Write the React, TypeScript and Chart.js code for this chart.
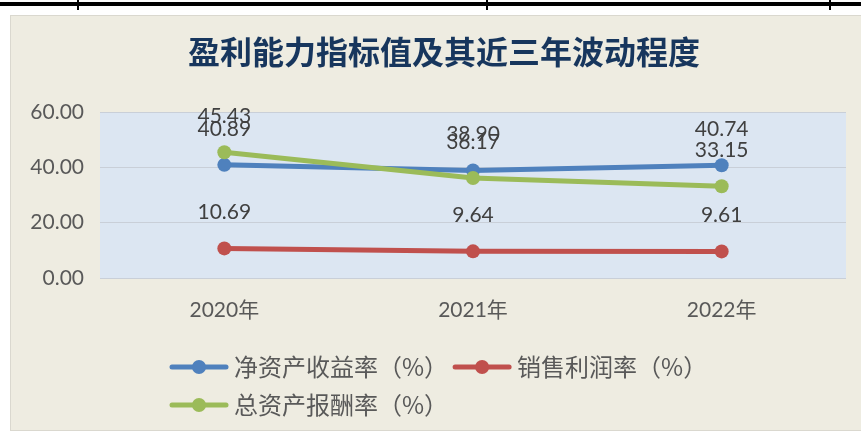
import React, { useEffect, useRef } from 'react';
import { Chart, registerables } from 'chart.js';

Chart.register(...registerables);

const titleText = '盈利能力指标值及其近三年波动程度';
const categories = ['2020年', '2021年', '2022年'];
const roeValues = [40.89, 38.9, 40.74];
const profitMarginValues = [10.69, 9.64, 9.61];
const assetReturnValues = [45.43, 36.17, 33.15];
const seriesNames = ['净资产收益率（%）', '销售利润率（%）', '总资产报酬率（%）'];
const seriesColors = ['#4F81BD', '#C0504D', '#9BBB59'];
const yTickValues = [0, 20, 40, 60];

const FONT = 'Lato, "Noto Sans CJK SC", sans-serif';
const CJK = '"Noto Sans CJK SC", Lato, sans-serif';

const plotBgPlugin = {
  id: 'plotBg',
  beforeDraw(chart: any) {
    const { ctx, chartArea } = chart;
    ctx.save();
    ctx.fillStyle = '#DCE6F2';
    ctx.fillRect(chartArea.left, chartArea.top, chartArea.right - chartArea.left, chartArea.bottom - chartArea.top);
    ctx.restore();
  },
};

const labelsPlugin = {
  id: 'pointLabels',
  afterDatasetsDraw(chart: any) {
    const { ctx } = chart;
    ctx.save();
    ctx.font = `21px ${FONT}`;
    ctx.fillStyle = '#404040';
    ctx.textAlign = 'center';
    ctx.textBaseline = 'middle';
    chart.data.datasets.forEach((ds: any, i: number) => {
      const meta = chart.getDatasetMeta(i);
      meta.data.forEach((pt: any, j: number) => {
        ctx.fillText(Number(ds.data[j]).toFixed(2), pt.x, pt.y - 36);
      });
    });
    ctx.restore();
  },
};

const titleLegendPlugin = {
  id: 'titleLegend',
  afterDraw(chart: any) {
    const { ctx } = chart;
    ctx.save();
    // title
    ctx.font = `bold 32px ${CJK}`;
    ctx.fillStyle = '#17365D';
    ctx.textAlign = 'center';
    ctx.textBaseline = 'middle';
    ctx.fillText(titleText, 444, 52);

    // legend
    ctx.font = `24px ${CJK}`;
    ctx.textAlign = 'left';
    const rows = [[0, 1], [2]];
    const rowY = [367, 405];
    rows.forEach((row, r) => {
      let x = 170;
      row.forEach((idx) => {
        const ds = chart.data.datasets[idx];
        const y = rowY[r];
        ctx.strokeStyle = ds.borderColor;
        ctx.lineWidth = 5;
        ctx.lineCap = 'round';
        ctx.beginPath();
        ctx.moveTo(x + 2, y);
        ctx.lineTo(x + 56, y);
        ctx.stroke();
        ctx.fillStyle = ds.borderColor;
        ctx.beginPath();
        ctx.arc(x + 29, y, 7, 0, Math.PI * 2);
        ctx.fill();
        ctx.fillStyle = '#595959';
        ctx.fillText(ds.label, x + 64, y);
        x += 64 + ctx.measureText(ds.label).width + 5;
      });
    });
    ctx.restore();
  },
};

export default function App() {
  const ref = useRef<HTMLCanvasElement | null>(null);

  useEffect(() => {
    document.body.style.margin = '0';
    const canvas = ref.current!;
    const valuesList = [roeValues, profitMarginValues, assetReturnValues];
    const chart = new Chart(canvas, {
      type: 'line',
      data: {
        labels: categories,
        datasets: valuesList.map((vals, i) => ({
          label: seriesNames[i],
          data: vals,
          borderColor: seriesColors[i],
          backgroundColor: seriesColors[i],
          pointBackgroundColor: seriesColors[i],
          pointBorderColor: seriesColors[i],
          borderWidth: 5,
          pointRadius: 7,
          pointBorderWidth: 0,
          tension: 0,
          fill: false,
          order: 3 - i,
        })),
      },
      options: {
        responsive: false,
        animation: false,
        devicePixelRatio: 1,
        layout: { padding: { left: 10, right: 15, top: 112, bottom: 0 } },
        plugins: {
          legend: { display: false },
          title: { display: false },
          tooltip: { enabled: false },
        },
        scales: {
          x: {
            offset: true,
            grid: { display: false, offset: true },
            border: { display: false },
            ticks: { color: '#595959', font: { size: 21, family: FONT }, padding: 12 },
            afterFit: (s: any) => { s.height = 156; },
          },
          y: {
            min: 0,
            max: 60,
            afterBuildTicks: (s: any) => { s.ticks = yTickValues.map((v) => ({ value: v })); },
            ticks: {
              color: '#595959',
              font: { size: 21, family: FONT },
              padding: 16,
              callback: (v: any) => Number(v).toFixed(2),
            },
            grid: { color: '#C9CFD8', lineWidth: 1, drawTicks: false },
            border: { display: false },
            afterFit: (s: any) => { s.width = 90; },
          },
        },
      },
      plugins: [plotBgPlugin, labelsPlugin, titleLegendPlugin],
    });
    return () => chart.destroy();
  }, []);

  return (
    <div style={{ position: 'fixed', left: 0, top: 0, width: 861, height: 434, background: '#ffffff', overflow: 'hidden' }}>
      <div style={{ position: 'absolute', left: 0, top: 2, width: 861, height: 4, background: '#000' }} />
      <div style={{ position: 'absolute', left: 77, top: 0, width: 2, height: 10, background: '#000' }} />
      <div style={{ position: 'absolute', left: 486, top: 0, width: 2, height: 10, background: '#000' }} />
      <div style={{ position: 'absolute', left: 829, top: 0, width: 2, height: 10, background: '#000' }} />
      <div style={{ position: 'absolute', left: 10, top: 15, width: 900, height: 416, background: '#EEECE1', border: '1px solid #DAD8CF', boxSizing: 'border-box' }} />
      <canvas ref={ref} width={861} height={434} style={{ position: 'absolute', left: 0, top: 0, width: 861, height: 434 }} />
    </div>
  );
}
